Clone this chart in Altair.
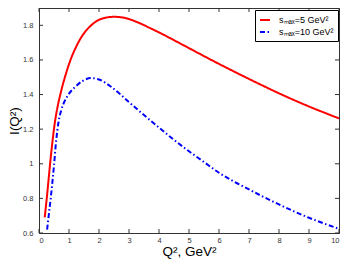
import altair as alt
import pandas as pd

# Data
red_q = [0.19, 0.27, 0.37, 0.45, 0.53, 0.62, 0.71, 0.88, 1.05, 1.25, 1.41, 1.74, 2.13, 2.5,
         2.8, 3.0, 3.36, 3.69, 4.0, 4.5, 5.0, 5.5, 6.0, 6.5, 7.0, 7.5, 8.0, 8.5, 9.0, 9.5, 10.0]
red_i = [0.69, 0.82, 1.0, 1.13, 1.24, 1.33, 1.40, 1.51, 1.60, 1.68, 1.731, 1.80, 1.84, 1.849,
         1.845, 1.836, 1.812, 1.785, 1.759, 1.714, 1.668, 1.622, 1.577, 1.533, 1.49, 1.448,
         1.407, 1.368, 1.331, 1.296, 1.262]

blue_q = [0.27, 0.33, 0.39, 0.45, 0.50, 0.57, 0.65, 0.75, 0.85, 1.0, 1.21, 1.45, 1.74, 2.0,
          2.41, 3.0, 3.47, 4.0, 4.5, 5.0, 5.5, 6.0, 6.5, 7.0, 7.5, 8.0, 8.5, 9.0, 9.5, 10.0]
blue_i = [0.62, 0.71, 0.80, 0.90, 0.99, 1.13, 1.24, 1.315, 1.36, 1.405, 1.445, 1.478, 1.495,
          1.487, 1.444, 1.356, 1.286, 1.209, 1.138, 1.072, 1.010, 0.948, 0.897, 0.852, 0.807,
          0.765, 0.725, 0.688, 0.655, 0.624]

series = ["sₘₐₓ=5 GeV²", "sₘₐₓ=10 GeV²"]
colors = ["#ff0000", "#0000ff"]
dashes = [[1, 0], [5, 2.5, 1.5, 2.5]]

x_ticks = [0, 1, 2, 3, 4, 5, 6, 7, 8, 9, 10]
y_ticks = [0.6, 0.8, 1.0, 1.2, 1.4, 1.6, 1.8]

W, H = 300, 225
AX = "#333333"
FONT = "Liberation Sans"

df = pd.DataFrame({
    "q": red_q + blue_q,
    "i": red_i + blue_i,
    "s": [series[0]] * len(red_q) + [series[1]] * len(blue_q),
})
xt = pd.DataFrame({"q": x_ticks})
yt = pd.DataFrame({"i": y_ticks})

x_scale = alt.Scale(domain=[0, 10], nice=False)
y_scale = alt.Scale(domain=[0.6, 1.9], nice=False, zero=False)

x_axis = alt.Axis(values=x_ticks, title="Q², GeV²", format="d", labelPadding=3,
                  titlePadding=1, labelOverlap=False, ticks=False)
y_axis = alt.Axis(values=y_ticks, title="I(Q²)", format=".2~f", labelPadding=6,
                  titlePadding=1, labelOverlap=False, ticks=False)

legend = alt.Legend(
    title=None, orient="none", legendX=216, legendY=2, strokeColor="black", fillColor="white",
    padding=4, rowPadding=1, symbolType="stroke", symbolSize=100, symbolStrokeWidth=2,
    labelFont=FONT, labelFontSize=9, labelColor="black", labelOffset=8, cornerRadius=0,
)

lines = alt.Chart(df).mark_line(strokeWidth=2, interpolate="monotone", clip=True).encode(
    x=alt.X("q:Q", scale=x_scale, axis=x_axis),
    y=alt.Y("i:Q", scale=y_scale, axis=y_axis),
    color=alt.Color("s:N", scale=alt.Scale(domain=series, range=colors), legend=legend),
    strokeDash=alt.StrokeDash("s:N", scale=alt.Scale(domain=series, range=dashes), legend=legend),
)

tick_style = dict(color=AX, strokeWidth=1)
bottom_ticks = alt.Chart(xt).mark_rule(**tick_style).encode(
    x=alt.X("q:Q", scale=x_scale, axis=x_axis), y=alt.value(H), y2=alt.value(H - 4))
top_ticks = alt.Chart(xt).mark_rule(**tick_style).encode(
    x=alt.X("q:Q", scale=x_scale, axis=x_axis), y=alt.value(0), y2=alt.value(4))
left_ticks = alt.Chart(yt).mark_rule(**tick_style).encode(
    y=alt.Y("i:Q", scale=y_scale, axis=y_axis), x=alt.value(0), x2=alt.value(4))
right_ticks = alt.Chart(yt).mark_rule(**tick_style).encode(
    y=alt.Y("i:Q", scale=y_scale, axis=y_axis), x=alt.value(W), x2=alt.value(W - 4))

chart = alt.layer(lines, bottom_ticks, top_ticks, left_ticks, right_ticks).properties(
    width=W, height=H,
    autosize=alt.AutoSizeParams(type="none"),
    padding={"left": 31, "top": 0, "right": 1, "bottom": 27},
    background="white",
).configure_view(
    stroke=AX, strokeWidth=1
).configure_axis(
    grid=False, domainColor=AX, domainWidth=1,
    labelFont=FONT, labelFontSize=7.5, labelColor="#333333",
    titleFont=FONT, titleFontSize=13.5, titleFontWeight="normal", titleColor="black",
)

chart.save("out.html", embed_options={"renderer": "svg", "actions": False})
